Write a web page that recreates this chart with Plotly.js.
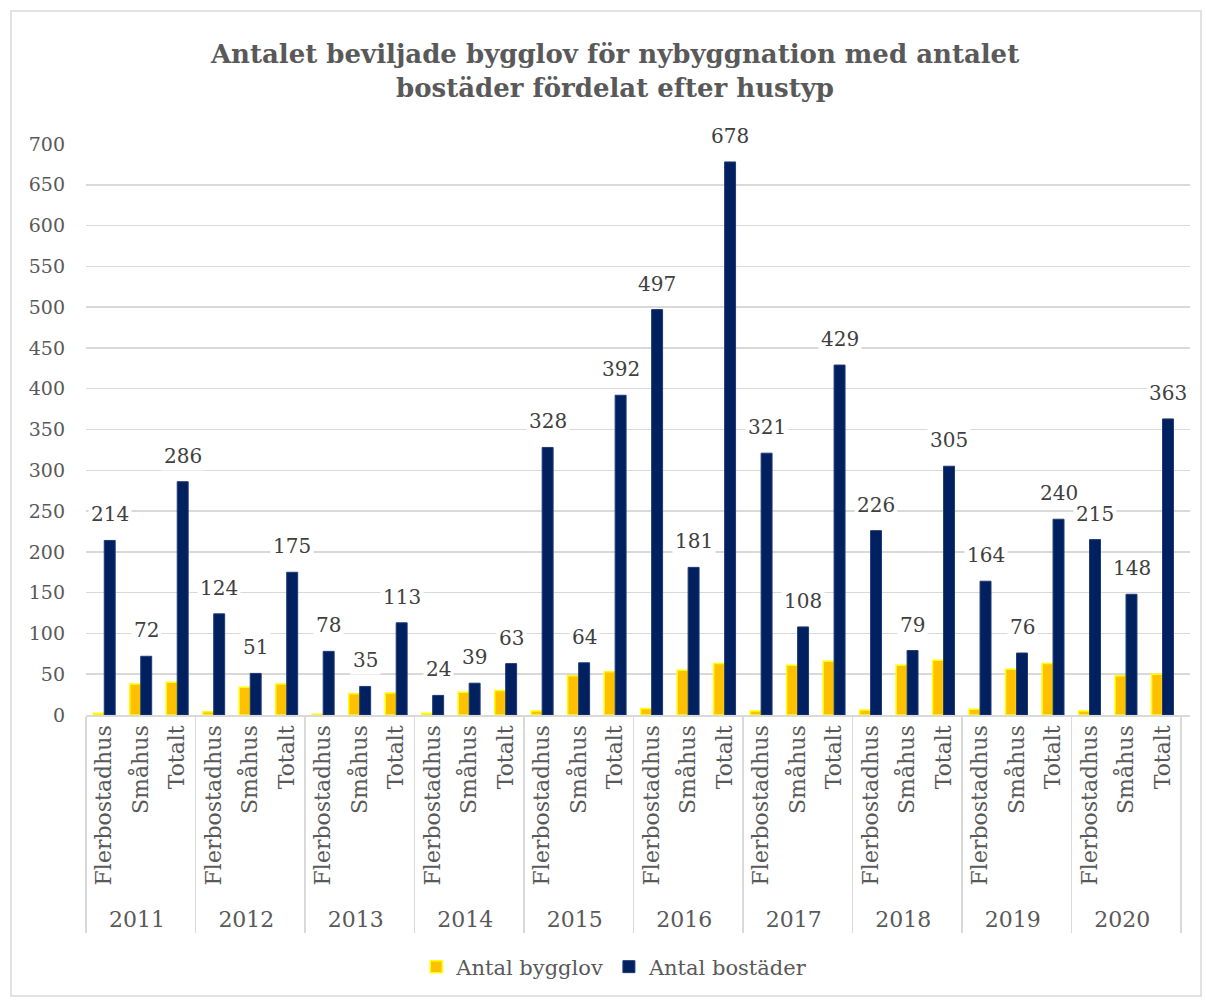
<!DOCTYPE html>
<html>
<head>
<meta charset="utf-8">
<script src="https://cdn.plot.ly/plotly-3.0.1.min.js"></script>
<style>html,body{margin:0;padding:0;background:#fff;}#chart{width:1206px;height:1000px;}</style>
</head>
<body>
<div id="chart"></div>
<script>
const years = ['2011','2012','2013','2014','2015','2016','2017','2018','2019','2020'];
const types = ['Flerbostadhus','Småhus','Totalt'];
const antalBygglov = [2,38,40, 4,34,38, 1,26,27, 2,28,30, 5,48,53, 8,55,63, 5,61,66, 6,61,67, 7,56,63, 5,48,50];
const antalBostader = [214,72,286, 124,51,175, 78,35,113, 24,39,63, 328,64,392, 497,181,678, 321,108,429, 226,79,305, 164,76,240, 215,148,363];
const seriesNames = ['Antal bygglov','Antal bostäder'];

const outer = [], inner = [];
years.forEach(y => types.forEach(t => { outer.push(y); inner.push(t); }));

const FONT = 'DejaVu Serif, serif';
const traces = [
  {type:'bar', name:seriesNames[0], x:[outer,inner], y:antalBygglov,
   marker:{color:'#FFC000', line:{color:'#FFFF00', width:1.5}}, hoverinfo:'y'},
  {type:'bar', name:seriesNames[1], x:[outer,inner], y:antalBostader,
   marker:{color:'#002060', line:{color:'#1F3A75', width:1}}, hoverinfo:'y'}
];

const annotations = antalBostader.map((v,i) => ({
  x: i + 0.15, y: v, xref:'x', yref:'y', text: String(v), showarrow:false,
  yanchor:'middle', yshift:26, bgcolor:'#ffffff', borderpad:2,
  font:{family:FONT, size:20, color:'#404040'}
}));

const W = 1206, H = 1000, L = 86, R = 16, T = 144, B = 285;
const pw = W - L - R, ph = H - T - B;
const px = x => (x - L) / pw, py = y => (H - B - y) / ph;

const layout = {
  width: W, height: H,
  margin:{l:L, r:R, t:T, b:B},
  paper_bgcolor:'#ffffff', plot_bgcolor:'#ffffff',
  font:{family:FONT, color:'#595959'},
  title:{text:'<b>Antalet beviljade bygglov för nybyggnation med antalet<br>bostäder fördelat efter hustyp</b>',
    x:0.51, xanchor:'center', y:0.937, yanchor:'middle',
    font:{family:FONT, size:26, color:'#595959'}},
  barmode:'group', bargap:0.4, bargroupgap:0,
  showlegend:true,
  legend:{orientation:'h', x:0.479, xanchor:'center', y:py(967), yanchor:'middle',
    font:{family:FONT, size:21, color:'#595959'}, itemwidth:30, traceorder:'normal'},
  xaxis:{type:'multicategory', tickangle:-90, showdividers:true, dividercolor:'#D9D9D9', dividerwidth:1.5,
    tickfont:{family:FONT, size:22, color:'#595959'}, showgrid:false, showline:true, linecolor:'#D9D9D9', linewidth:1.5,
    ticks:'', fixedrange:true},
  yaxis:{range:[0,700], dtick:50, tick0:0, gridcolor:'#D9D9D9', gridwidth:1.5, showline:false, zeroline:false,
    tickfont:{family:FONT, size:19, color:'#595959'}, ticks:'', ticklabelstandoff:20, fixedrange:true},
  annotations: annotations,
  shapes:[{type:'rect', xref:'paper', yref:'paper', x0:px(11), x1:px(1201), y0:py(996), y1:py(11),
    line:{color:'#D9D9D9', width:1.5}, fillcolor:'rgba(0,0,0,0)', layer:'below'}]
};

Plotly.newPlot('chart', traces, layout, {displayModeBar:false, staticPlot:true});
</script>
</body>
</html>
